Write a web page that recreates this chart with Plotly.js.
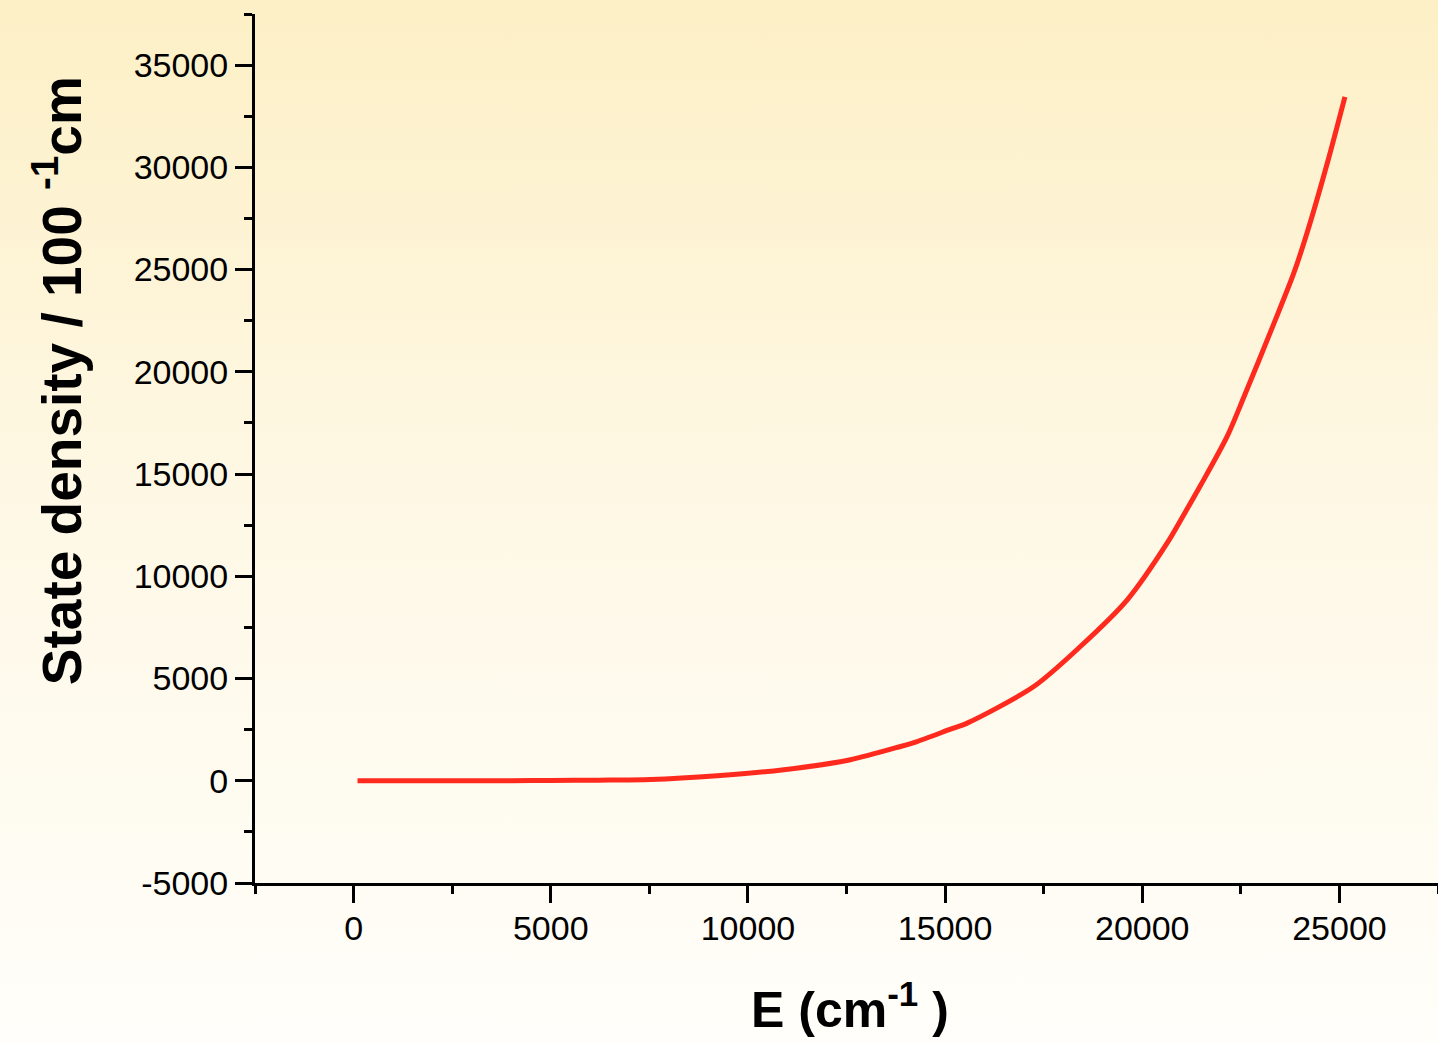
<!DOCTYPE html>
<html>
<head>
<meta charset="utf-8">
<script src="https://cdn.plot.ly/plotly-3.0.1.min.js"></script>
<style>
  html, body { margin: 0; padding: 0; }
  body {
    width: 1438px; height: 1043px; overflow: hidden;
    background: linear-gradient(to bottom, #fdf0c6 0%, #fef8e6 50%, #fffefa 100%);
  }
  #chart { width: 1438px; height: 1043px; }
</style>
</head>
<body>
<div id="chart"></div>
<script>
// Energy (cm^-1)
const energy = [100, 2000, 3000, 4000, 5000, 6200, 7530, 9220, 10910, 12600, 13870, 14290, 15140, 15560, 17250, 18430, 19620, 20630, 21050, 21480, 22150, 22580, 23340, 23840, 24180, 24690, 25140];
// State density / 100 cm^-1
const density = [0, 0, 0, 5, 15, 30, 60, 245, 540, 1030, 1677, 1920, 2525, 2820, 4610, 6565, 8850, 11620, 13000, 14450, 16830, 18780, 22370, 24810, 26800, 30190, 33450];

// Tick labels
const xTickVals = [0, 5000, 10000, 15000, 20000, 25000];
const xTickText = ['0', '5000', '10000', '15000', '20000', '25000'];
const yTickVals = [-5000, 0, 5000, 10000, 15000, 20000, 25000, 30000, 35000];
const yTickText = ['-5000', '0', '5000', '10000', '15000', '20000', '25000', '30000', '35000'];

const xTitle = 'E (cm<sup>-1</sup> )';
const yTitle = 'State density / 100 <sup>-1</sup>cm';

const sans = '"Liberation Sans", Arial, sans-serif';

const trace = {
  x: energy, y: density, type: 'scatter', mode: 'lines',
  line: { color: '#ff2a1e', width: 5, shape: 'spline', smoothing: 0.8 },
  hoverinfo: 'skip'
};

const axisCommon = {
  showgrid: false, zeroline: false,
  showline: true, linecolor: '#000', linewidth: 3,
  ticks: 'outside', ticklen: 17, tickwidth: 3, tickcolor: '#000',
  tickfont: { family: sans, size: 34, color: '#000' },
  mirror: false, tickmode: 'array'
};

const layout = {
  width: 1438, height: 1043,
  paper_bgcolor: 'rgba(0,0,0,0)', plot_bgcolor: 'rgba(0,0,0,0)',
  margin: { l: 255, r: 0, t: 14, b: 160, pad: 0 },
  showlegend: false,
  xaxis: Object.assign({}, axisCommon, {
    range: [-2500, 27500], tickvals: xTickVals, ticktext: xTickText,
    ticklabelstandoff: -4,
    minor: { dtick: 2500, tick0: 0, ticks: 'outside', ticklen: 8, tickwidth: 3, tickcolor: '#000', showgrid: false }
  }),
  yaxis: Object.assign({}, axisCommon, {
    range: [-5000, 37500], tickvals: yTickVals, ticktext: yTickText,
    minor: { dtick: 2500, tick0: -5000, ticks: 'outside', ticklen: 8, tickwidth: 3, tickcolor: '#000', showgrid: false }
  }),
  annotations: [
    {
      text: xTitle, xref: 'paper', yref: 'paper', x: 0.503, y: -0.142,
      xanchor: 'center', yanchor: 'middle', showarrow: false,
      font: { family: sans, size: 50, color: '#000', weight: 'bold' }
    },
    {
      text: yTitle, xref: 'paper', yref: 'paper', x: -0.167, y: 0.578,
      xanchor: 'center', yanchor: 'middle', showarrow: false, textangle: -90,
      font: { family: sans, size: 55, color: '#000', weight: 'bold' }
    }
  ]
};

Plotly.newPlot('chart', [trace], layout, { displayModeBar: false, staticPlot: true });
</script>
</body>
</html>
